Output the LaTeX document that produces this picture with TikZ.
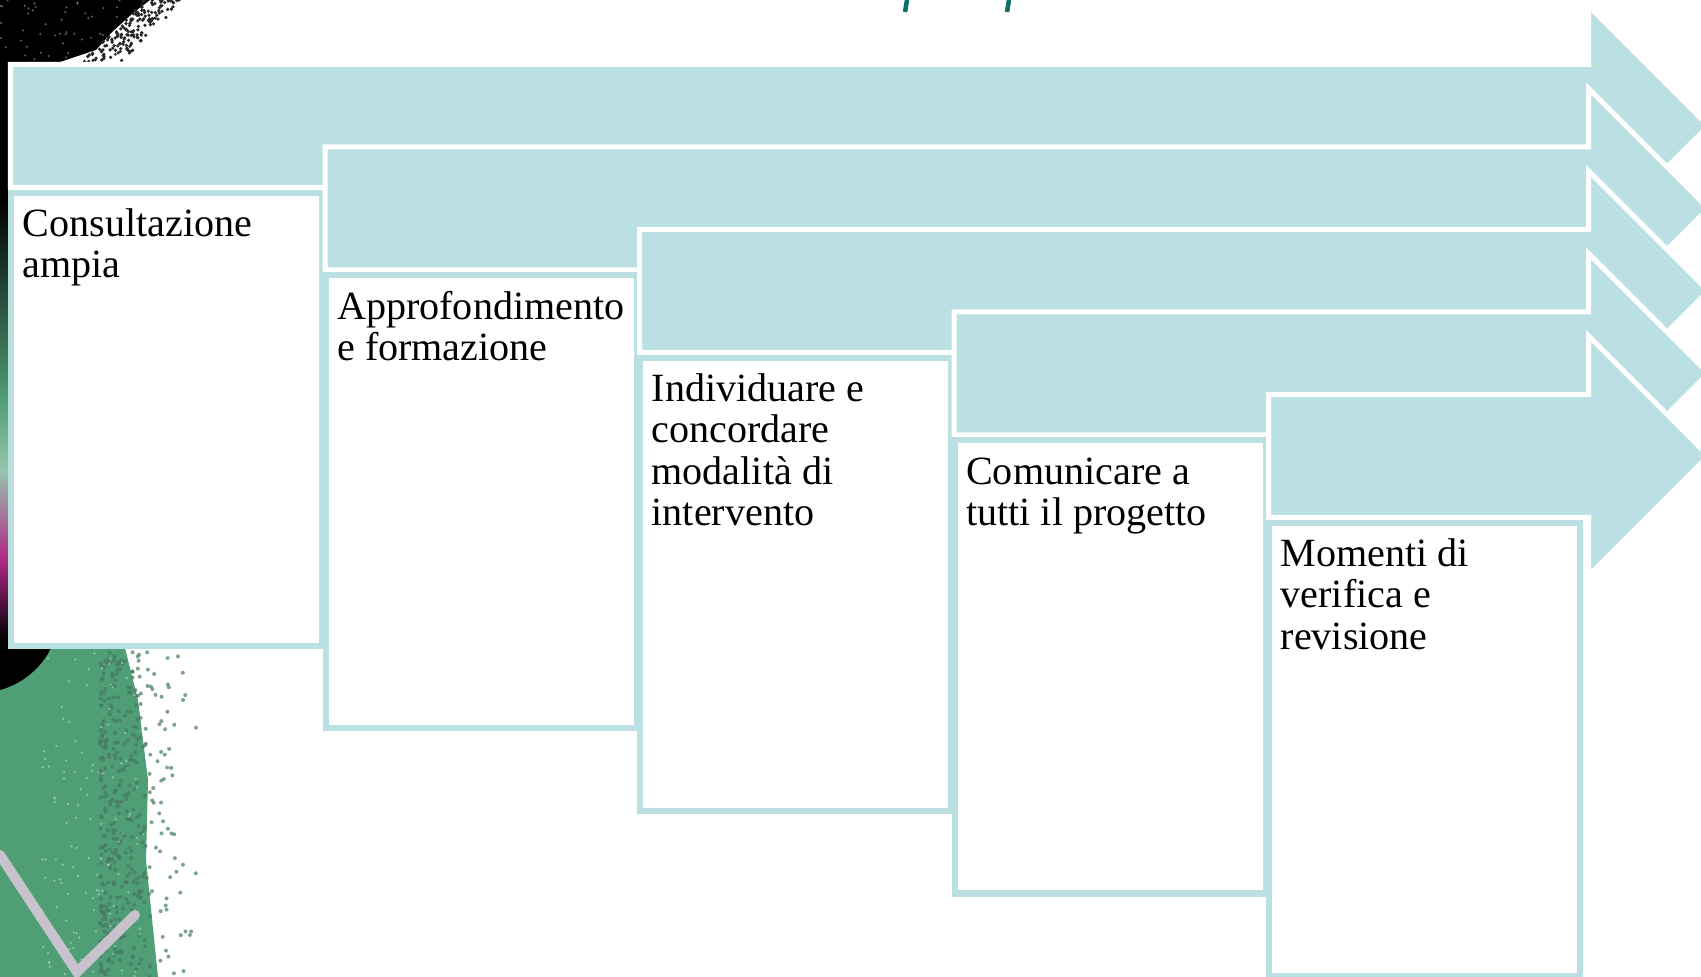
\documentclass[tikz,border=0pt]{standalone}
\usepackage{fontspec}
\setmainfont{Liberation Serif}

\definecolor{steplight}{RGB}{187,224,227}
\definecolor{leafgreen}{RGB}{80,158,118}
\definecolor{darkleaf}{RGB}{38,98,72}
\definecolor{titleteal}{RGB}{16,110,104}
\definecolor{chalkpink}{RGB}{214,198,214}
\definecolor{berry}{RGB}{176,40,132}

\begin{document}
\begin{tikzpicture}[x=0.01cm,y=-0.01cm,
  steparrow/.style={fill=steplight, draw=white, line width=0.05cm, line join=miter},
  textbox/.style={fill=white, draw=steplight, line width=0.06cm},
  steplabel/.style={anchor=north west, inner sep=0pt, align=left,
    font=\fontsize{11.4pt}{11.7pt}\selectfont, text=black}]
\useasboundingbox (0,0) rectangle (1701,977);
\clip (0,0) rectangle (1701,977);

% --- decorative artwork along the left edge ---
% ink splash in the upper-left corner
\fill[black] (0,0) -- (150,0) -- (132,14) -- (112,32) -- (96,50) -- (60,62) -- (0,64) -- cycle;
\pgfmathsetseed{11}
\foreach \k in {1,...,160}{
  \pgfmathsetmacro{\py}{62*rnd}
  \pgfmathsetmacro{\px}{160-1.0*\py+40*(rnd-0.4)}
  \fill[black!85] (\px,\py) circle (0.018cm);
}
\foreach \k in {1,...,50}{
  \pgfmathsetmacro{\py}{60*rnd}
  \pgfmathsetmacro{\px}{120*rnd}
  \fill[white, opacity=0.35] (\px,\py) circle (0.012cm);
}
% narrow strip behind the first box
\fill[black] (0,60) rectangle (10,700);
\shade[top color=black, bottom color=leafgreen] (0,200) rectangle (8,400);
\shade[top color=leafgreen, bottom color=leafgreen!60!white] (0,400) rectangle (8,470);
\shade[top color=leafgreen!60!white, bottom color=berry] (0,470) rectangle (8,560);
\shade[top color=berry, bottom color=black] (0,560) rectangle (8,640);

% green patch below the first box
\fill[leafgreen] (0,648) -- (125,648) -- (138,700) -- (148,780) -- (146,860) -- (158,977) -- (0,977) -- cycle;
\pgfmathsetseed{5}
\foreach \k in {1,...,420}{
  \pgfmathsetmacro{\py}{652+325*rnd}
  \pgfmathsetmacro{\px}{100+100*rnd*rnd}
  \fill[darkleaf!85!white, opacity=0.7] (\px,\py) circle (0.02cm);
}
\foreach \k in {1,...,160}{
  \pgfmathsetmacro{\py}{652+325*rnd}
  \pgfmathsetmacro{\px}{40+130*rnd}
  \fill[white, opacity=0.4] (\px,\py) circle (0.012cm);
}
% dark blob under the first box
\fill[black] (0,646) -- (52,646) .. controls (42,668) and (22,684) .. (0,690) -- cycle;
% chalk tick mark
\draw[chalkpink, line width=0.1cm, line cap=round, opacity=0.9] (0,855) -- (77,972) -- (135,915);

% fragments of the heading above the chart
\draw[titleteal, line width=0.045cm] (907,0) -- (905,12);
\draw[titleteal, line width=0.045cm] (1009,0) -- (1007,12);

% --- staircase of process steps ---
\foreach \i/\txt in {0/{Consultazione\\ampia},
                     1/{Approfondimento\\e formazione},
                     2/{Individuare e\\concordare\\modalità di\\intervento},
                     3/{Comunicare a\\tutti il progetto},
                     4/{Momenti di\\verifica e\\revisione}}{
  \pgfmathsetmacro{\L}{10.5+314.5*\i}
  \pgfmathsetmacro{\T}{64.5+82.5*\i}
  % bent arrow of the step
  \draw[steparrow] (\L,\T) -- (1588.5,\T) -- (1588.5,\T-58.5) -- (1708.5,\T+61.5)
    -- (1588.5,\T+181.5) -- (1588.5,\T+123) -- (\L,\T+123) -- cycle;
  % text panel of the step
  \draw[textbox] (\L+0.5,\T+128.5) rectangle (\L+311.5,\T+581.5);
  \node[steplabel] (label\i) at (\L+11.5,\T+141.5) {\rule{0pt}{0.3cm}\txt};
}
\end{tikzpicture}
\end{document}
